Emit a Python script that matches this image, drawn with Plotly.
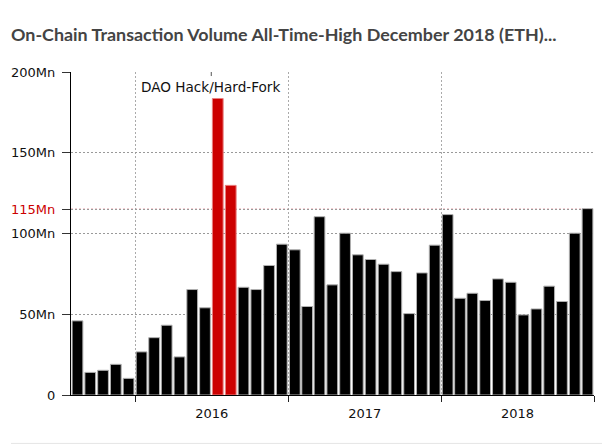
# Imports
import pandas as pd
import plotly.graph_objects as go

# Monthly on-chain volume in millions, Aug 2015 to Dec 2018
months = pd.date_range("2015-08-01", "2018-12-01", freq="MS")
volume_mn = [
    45.9, 14.0, 15.3, 19.0, 10.3,
    26.7, 35.5, 43.2, 23.6, 65.3, 54.0, 183.6, 129.8, 66.7, 65.3, 80.2, 93.4,
    89.9, 54.8, 110.4, 68.2, 100.2, 86.8, 83.9, 81.0, 76.4, 50.4, 75.6, 92.8,
    111.7, 59.9, 63.0, 58.5, 71.9, 69.8, 49.6, 53.3, 67.4, 57.9, 100.2, 115.4,
]
highlight_months = ["2016-07-01", "2016-08-01"]

y_ticks = [0, 50, 100, 115, 150, 200]
y_labels = ["0", "50Mn", "100Mn", '<span style="color:#cc0000">115Mn</span>', "150Mn", "200Mn"]
ath_level = 115

title_text = "On-Chain Transaction Volume All-Time-High December 2018 (ETH)..."
event_text = "DAO Hack/Hard-Fork"
event_date = "2016-07-01"

bar_colors = ["#cc0000" if m.strftime("%Y-%m-%d") in highlight_months else "#000000" for m in months]
bar_edges = ["#e88080" if m.strftime("%Y-%m-%d") in highlight_months else "#b0b0b0" for m in months]

fig = go.Figure(go.Bar(
    x=months,
    y=volume_mn,
    xperiod="M1",
    xperiodalignment="middle",
    marker=dict(color=bar_colors, line=dict(color=bar_edges, width=1)),
    showlegend=False,
))

# Red dotted all-time-high line, under the bars
fig.add_shape(type="line", xref="paper", x0=0, x1=1, yref="y", y0=ath_level, y1=ath_level,
              line=dict(color="#cc3344", width=1, dash="2px,2px"), layer="between")
# Small mark on top of the plot for the event
fig.add_shape(type="line", xref="x", x0=event_date, x1=event_date, yref="y", y0=200, y1=197.5,
              line=dict(color="#555555", width=1))
# Thin separator under the chart
fig.add_shape(type="line", xref="paper", x0=-60 / 523, x1=1 + 8 / 523, yref="paper", y0=-48.5 / 323.5, y1=-48.5 / 323.5,
              line=dict(color="#e6e6e6", width=1))

fig.add_annotation(text=event_text, x=event_date, y=190.5, xref="x", yref="y", showarrow=False, xshift=-1,
                   font=dict(family="DejaVu Sans", size=13.6, color="#111111"))
fig.add_annotation(
    text=title_text, xref="paper", yref="paper", x=-62 / 523, y=1 + 38 / 323.5,
    xanchor="left", yanchor="middle", showarrow=False,
    font=dict(family="Lato", size=17.9, color="#444444", weight="bold"),
)

# Page body keeps an 8px margin, so the figure is 8px smaller than the window
fig.update_layout(
    width=602,
    height=437,
    margin=dict(l=63, r=16, t=64, b=49.5),
    paper_bgcolor="white",
    plot_bgcolor="white",
    font=dict(family="DejaVu Sans", size=13, color="#111111"),
    bargap=0.13,
    xaxis=dict(
        type="date",
        automargin=False,
        range=["2015-08-01", "2019-01-01"],
        dtick="M12",
        tick0="2016-01-01",
        tickformat="%Y",
        ticklabelmode="period",
        ticks="outside",
        ticklen=6,
        tickcolor="#222222",
        showline=True,
        linecolor="#000000",
        linewidth=1,
        showgrid=True,
        gridcolor="#aaaaaa",
        griddash="2px,2px",
        gridwidth=1.4,
        zeroline=False,
    ),
    yaxis=dict(
        automargin=False,
        range=[0, 200],
        tickvals=y_ticks,
        ticktext=y_labels,
        ticks="outside",
        ticklen=8,
        tickcolor="#333333",
        ticklabelstandoff=4,
        showline=True,
        linecolor="#000000",
        linewidth=1.4,
        showgrid=True,
        gridcolor="#999999",
        griddash="2px,2px",
        gridwidth=1.4,
        zeroline=False,
    ),
)

fig.write_html("out.html")
